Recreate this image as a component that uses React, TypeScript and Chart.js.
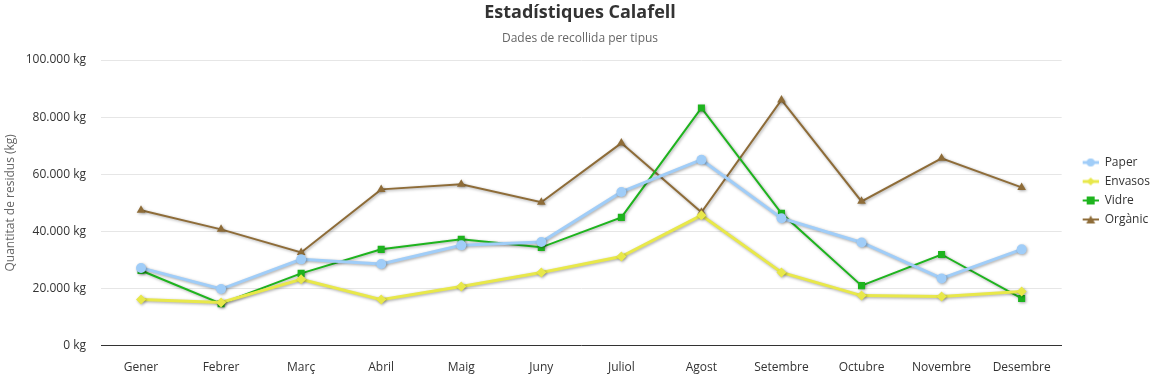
import React, { useEffect, useRef } from "react";
import { Chart, registerables } from "chart.js";

Chart.register(...registerables);

const months = ["Gener", "Febrer", "Març", "Abril", "Maig", "Juny", "Juliol", "Agost", "Setembre", "Octubre", "Novembre", "Desembre"];
const paper = [27200, 19800, 30200, 28600, 35100, 36300, 53800, 65100, 44600, 36100, 23500, 33700];
const envasos = [16100, 15100, 23200, 16100, 20700, 25600, 31200, 45600, 25600, 17500, 17200, 18900];
const vidre = [26300, 14700, 25300, 33700, 37200, 34400, 44900, 83200, 46300, 21000, 31900, 16500];
const organic = [47400, 40700, 32600, 54700, 56500, 50200, 70900, 46700, 86000, 50500, 65600, 55400];
const yTicks = [0, 20000, 40000, 60000, 80000, 100000];

const FONT = "'Open Sans', 'Noto Sans', sans-serif";

function fmt(v: number): string {
  return String(Math.round(v)).replace(/\B(?=(\d{3})+(?!\d))/g, ".") + " kg";
}

function legendIcon(color: string, style: string, lw: number): HTMLCanvasElement {
  const c = document.createElement("canvas");
  c.width = 30;
  c.height = 12;
  const ctx = c.getContext("2d")!;
  ctx.strokeStyle = color;
  ctx.fillStyle = color;
  ctx.lineWidth = lw;
  ctx.beginPath();
  ctx.moveTo(14, 6);
  ctx.lineTo(30, 6);
  ctx.stroke();
  const cx = 22;
  ctx.beginPath();
  if (style === "circle") {
    ctx.arc(cx, 6, 4, 0, Math.PI * 2);
  } else if (style === "rectRot") {
    ctx.moveTo(cx, 2);
    ctx.lineTo(cx + 4, 6);
    ctx.lineTo(cx, 10);
    ctx.lineTo(cx - 4, 6);
    ctx.closePath();
  } else if (style === "rect") {
    ctx.rect(cx - 4, 2, 8, 8);
  } else {
    ctx.moveTo(cx, 2);
    ctx.lineTo(cx + 4.5, 10);
    ctx.lineTo(cx - 4.5, 10);
    ctx.closePath();
  }
  ctx.fill();
  return c;
}

const shadowPlugin = {
  id: "lineShadow",
  beforeDatasetsDraw(chart: any) {
    const ctx = chart.ctx;
    ctx.save();
    ctx.shadowColor = "rgba(0,0,0,0.35)";
    ctx.shadowBlur = 3;
    ctx.shadowOffsetX = 1;
    ctx.shadowOffsetY = 1;
  },
  afterDatasetsDraw(chart: any) {
    chart.ctx.restore();
  },
};

export default function App() {
  const ref = useRef<HTMLCanvasElement>(null);
  useEffect(() => {
    const series = [
      { label: "Paper", data: paper, color: "#a0cdf8", style: "circle", lw: 3, r: 5 },
      { label: "Envasos", data: envasos, color: "#e8e84a", style: "rectRot", lw: 3, r: 5 },
      { label: "Vidre", data: vidre, color: "#1eb41e", style: "rect", lw: 2, r: 5 },
      { label: "Orgànic", data: organic, color: "#8e6c38", style: "triangle", lw: 2, r: 5 },
    ];
    const icons = series.map((s) => legendIcon(s.color, s.style, s.lw));
    const chart = new Chart(ref.current!, {
      type: "line",
      data: {
        labels: months,
        datasets: series.map((s) => ({
          label: s.label,
          data: s.data,
          borderColor: s.color,
          backgroundColor: s.color,
          borderWidth: s.lw,
          pointStyle: s.style as any,
          pointRadius: s.r,
          pointBorderWidth: 0,
          pointHoverRadius: s.r,
          tension: 0,
          fill: false,
        })),
      },
      options: {
        animation: false,
        responsive: true,
        maintainAspectRatio: false,
        layout: { padding: { left: 0, right: -4, top: 0, bottom: -5 } },
        font: { family: FONT } as any,
        plugins: {
          title: {
            display: true,
            text: "Estadístiques Calafell",
            color: "#333",
            font: { family: FONT, size: 18, weight: "bold" },
            padding: { top: 2, bottom: 8 },
          },
          subtitle: {
            display: true,
            text: "Dades de recollida per tipus",
            color: "#666",
            font: { family: FONT, size: 12 },
            padding: { top: 0, bottom: 14 },
          },
          legend: {
            position: "right",
            align: "center",
            labels: {
              color: "#333",
              font: { family: FONT, size: 12 },
              usePointStyle: true,
              pointStyleWidth: 30,
              boxHeight: 12,
              padding: 7,
              generateLabels: () =>
                series.map((s, i) => ({
                  text: s.label,
                  fillStyle: s.color,
                  strokeStyle: s.color,
                  lineWidth: 0,
                  pointStyle: icons[i] as any,
                  hidden: false,
                  datasetIndex: i,
                  fontColor: "#333",
                })),
            },
          },
          tooltip: { enabled: false },
        },
        scales: {
          x: {
            offset: true,
            grid: { display: false },
            border: { display: true, color: "#333", width: 1 },
            ticks: { color: "#333", font: { family: FONT, size: 12 }, padding: 7 },
          },
          y: {
            min: 0,
            max: 100000,
            afterBuildTicks: (axis: any) => {
              axis.ticks = yTicks.map((v) => ({ value: v }));
            },
            afterFit: (axis: any) => {
              axis.width = 101;
            },
            grid: { color: "#e6e6e6", drawTicks: false },
            border: { display: false },
            ticks: {
              color: "#333",
              font: { family: FONT, size: 12 },
              padding: 15,
              callback: (v: any) => fmt(Number(v)),
            },
            title: {
              display: true,
              text: "Quantitat de residus (kg)",
              color: "#666",
              font: { family: FONT, size: 12 },
              padding: { top: 3, bottom: 4 },
            },
          },
        },
      },
      plugins: [shadowPlugin],
    });
    return () => chart.destroy();
  }, []);
  return (
    <div style={{ position: "fixed", left: 0, top: 0, width: 1156, height: 377, background: "#fff" }}>
      <canvas ref={ref} />
    </div>
  );
}
